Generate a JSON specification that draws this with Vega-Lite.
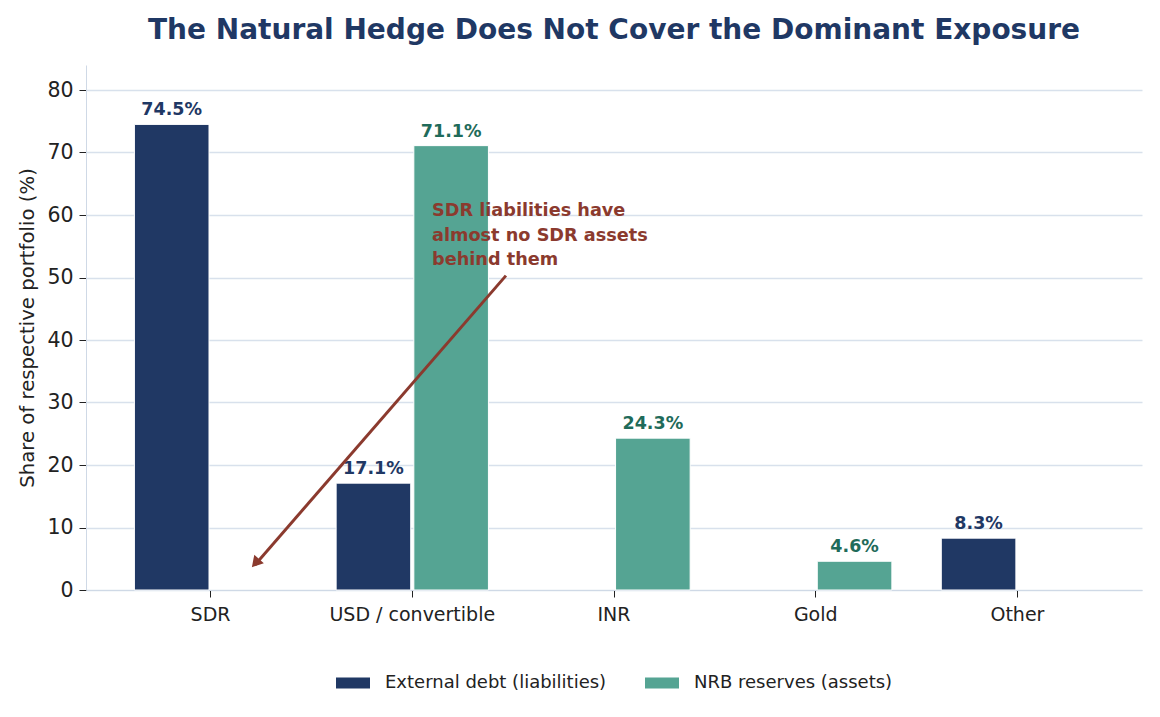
{
  "$schema": "https://vega.github.io/schema/vega-lite/v6.json",
  "width": 1056,
  "height": 525,
  "autosize": {"type": "none"},
  "padding": {"left": 86, "top": 65, "right": 18, "bottom": 127},
  "background": "white",
  "config": {
    "font": "DejaVu Sans",
    "view": {"stroke": null}
  },
  "title": {
    "text": "The Natural Hedge Does Not Cover the Dominant Exposure",
    "fontSize": 28,
    "fontWeight": "bold",
    "color": "#1f3864",
    "anchor": "middle",
    "offset": 20
  },
  "layer": [
    {
      "data": {
        "values": [
          {"category": "SDR", "series": "External debt (liabilities)", "value": 74.5},
          {"category": "USD / convertible", "series": "External debt (liabilities)", "value": 17.1},
          {"category": "USD / convertible", "series": "NRB reserves (assets)", "value": 71.1},
          {"category": "INR", "series": "NRB reserves (assets)", "value": 24.3},
          {"category": "Gold", "series": "NRB reserves (assets)", "value": 4.6},
          {"category": "Other", "series": "External debt (liabilities)", "value": 8.3}
        ]
      },
      "transform": [
        {"calculate": "format(datum.value, '.1f') + '%'", "as": "label"}
      ],
      "encoding": {
        "x": {
          "field": "category",
          "type": "nominal",
          "sort": ["SDR", "USD / convertible", "INR", "Gold", "Other"],
          "scale": {"domain": ["SDR", "USD / convertible", "INR", "Gold", "Other"], "paddingInner": 0.245, "paddingOuter": 0.24},
          "axis": {
            "title": null,
            "labelAngle": 0,
            "labelFontSize": 19,
            "labelColor": "#222222",
            "labelPadding": 8,
            "tickColor": "#222222",
            "tickSize": 7,
            "domainColor": "#cfd9e6",
            "grid": false
          }
        },
        "xOffset": {
          "field": "series",
          "type": "nominal",
          "scale": {"domain": ["External debt (liabilities)", "NRB reserves (assets)"], "paddingInner": 0.04}
        },
        "y": {
          "field": "value",
          "type": "quantitative",
          "scale": {"domain": [0, 84], "nice": false},
          "axis": {
            "title": "Share of respective portfolio (%)",
            "titleFontSize": 19.7,
            "titleFontWeight": "normal",
            "titleColor": "#222222",
            "titlePadding": 9,
            "values": [0, 10, 20, 30, 40, 50, 60, 70, 80],
            "labelFontSize": 20.5,
            "labelColor": "#222222",
            "labelPadding": 6,
            "tickColor": "#222222",
            "tickSize": 7,
            "domainColor": "#cfd9e6",
            "gridColor": "#d8e1ec",
            "gridWidth": 1.5
          }
        }
      },
      "layer": [
        {
          "mark": {"type": "bar", "stroke": "white", "strokeWidth": 1},
          "encoding": {
            "color": {
              "field": "series",
              "type": "nominal",
              "scale": {"domain": ["External debt (liabilities)", "NRB reserves (assets)"], "range": ["#203864", "#55a493"]},
              "legend": {
                "title": null,
                "orient": "none",
                "legendX": 250,
                "legendY": 601,
                "direction": "horizontal",
                "labelFontSize": 18,
                "labelColor": "#222222",
                "labelOffset": 15,
                "labelLimit": 0,
                "columnPadding": 38,
                "symbolType": "M-1,-0.32H1V0.32H-1Z",
                "symbolSize": 1156,
                "symbolStrokeWidth": 0
              }
            }
          }
        },
        {
          "mark": {"type": "text", "baseline": "bottom", "dy": -5, "fontSize": 17.5, "fontWeight": "bold"},
          "encoding": {
            "text": {"field": "label", "type": "nominal"},
            "color": {
              "condition": {"test": "datum.series == 'External debt (liabilities)'", "value": "#1f3864"},
              "value": "#1f6b5a"
            }
          }
        }
      ]
    },
    {
      "data": {"values": [{"x": 1.465, "y": 50.3, "x2": 0.222, "y2": 4.0}]},
      "mark": {"type": "rule", "color": "#8b3a2e", "strokeWidth": 3},
      "encoding": {
        "x": {"field": "x", "type": "quantitative", "scale": {"domain": [-0.614, 4.614], "nice": false, "zero": false}, "axis": null},
        "x2": {"field": "x2"},
        "y": {"field": "y", "type": "quantitative"},
        "y2": {"field": "y2"}
      }
    },
    {
      "data": {"values": [{"x": 0.225, "y": 4.3}]},
      "mark": {"type": "point", "shape": "triangle-up", "filled": true, "color": "#8b3a2e", "opacity": 1, "size": 160, "angle": 221},
      "encoding": {
        "x": {"field": "x", "type": "quantitative", "scale": {"domain": [-0.614, 4.614], "nice": false, "zero": false}, "axis": null},
        "y": {"field": "y", "type": "quantitative"}
      }
    },
    {
      "data": {"values": [{"x": 1.099, "y": 62.1, "note": ["SDR liabilities have", "almost no SDR assets", "behind them"]}]},
      "mark": {"type": "text", "align": "left", "baseline": "top", "fontSize": 17.7, "fontWeight": "bold", "color": "#8b3a2e", "lineHeight": 24.7},
      "encoding": {
        "x": {"field": "x", "type": "quantitative", "scale": {"domain": [-0.614, 4.614], "nice": false, "zero": false}, "axis": null},
        "y": {"field": "y", "type": "quantitative"},
        "text": {"field": "note"}
      }
    }
  ],
  "resolve": {"scale": {"x": "independent"}}
}
